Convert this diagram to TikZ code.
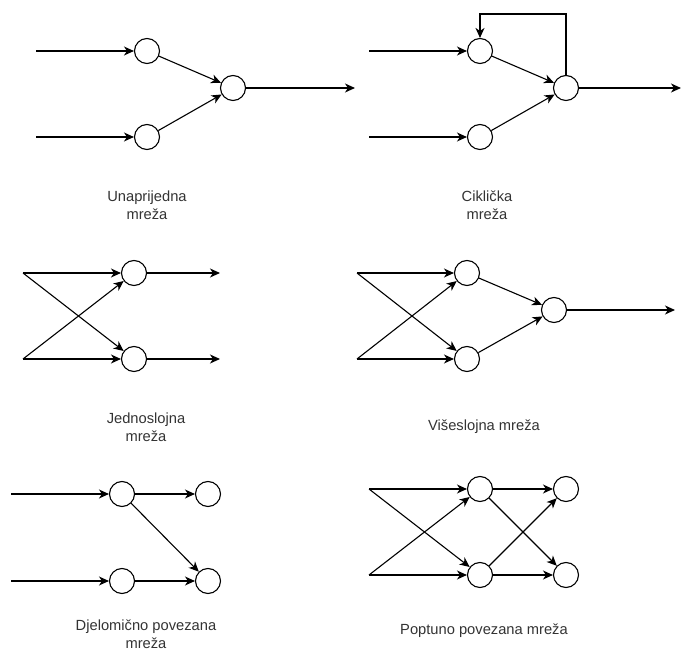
\documentclass[tikz,border=0pt]{standalone}
\usepackage{fontspec}
\setmainfont{Liberation Sans}
\usetikzlibrary{arrows.meta}
\definecolor{labelgray}{HTML}{333333}
\begin{document}
\begin{tikzpicture}[x=1pt,y=-1pt,
  neuron/.style={circle,draw=black,line width=1.1pt,minimum size=25pt,inner sep=0pt,fill=white},
  conn/.style={draw=black,line width=1.1pt,-{Stealth[length=10pt,width=9pt,inset=3pt]}},
  caption/.style={text=labelgray,align=center,font=\fontsize{14.7}{18.5}\selectfont,inner sep=0pt}]
\useasboundingbox (0,0) rectangle (681,652);
% ---- Panel 1: Unaprijedna mreza
\node[neuron] (a1) at (147,51) {};
\node[neuron] (a2) at (147,137) {};
\node[neuron] (a3) at (233,88) {};
\coordinate (ai1) at (36,51);
\coordinate (ai2) at (36,137);
\coordinate (ao) at (355,88);
\draw[conn] (ai1) -- (a1);
\draw[conn] (ai2) -- (a2);
\draw[conn] (a1) -- (a3);
\draw[conn] (a2) -- (a3);
\draw[conn] (a3) -- (ao);
\node[caption] (la) at (147,205) {Unaprijedna\\mreža};
% ---- Panel 2: Ciklicka mreza
\node[neuron] (b1) at (480,51) {};
\node[neuron] (b2) at (480,137) {};
\node[neuron] (b3) at (566,88) {};
\coordinate (bi1) at (369,51);
\coordinate (bi2) at (369,137);
\coordinate (bo) at (681,88);
\coordinate (bf1) at (566,14);
\coordinate (bf2) at (480,14);
\draw[conn] (bi1) -- (b1);
\draw[conn] (bi2) -- (b2);
\draw[conn] (b1) -- (b3);
\draw[conn] (b2) -- (b3);
\draw[conn] (b3) -- (bo);
\draw[conn] (b3.north) -- (bf1) -- (bf2) -- (b1.north);
\node[caption] (lb) at (487,205) {Ciklička\\mreža};
% ---- Panel 3: Jednoslojna mreza
\node[neuron] (c1) at (134,273) {};
\node[neuron] (c2) at (134,359) {};
\coordinate (ci1) at (23,273);
\coordinate (ci2) at (23,359);
\coordinate (co1) at (220,273);
\coordinate (co2) at (220,359);
\draw[conn] (ci1) -- (c1);
\draw[conn] (ci1) -- (c2);
\draw[conn] (ci2) -- (c2);
\draw[conn] (ci2) -- (c1);
\draw[conn] (c1) -- (co1);
\draw[conn] (c2) -- (co2);
\node[caption] (lc) at (146,427) {Jednoslojna\\mreža};
% ---- Panel 4: Viseslojna mreza
\node[neuron] (d1) at (467,273) {};
\node[neuron] (d2) at (467,359) {};
\node[neuron] (d3) at (554,310) {};
\coordinate (di1) at (357,273);
\coordinate (di2) at (357,359);
\coordinate (do) at (675,310);
\draw[conn] (di1) -- (d1);
\draw[conn] (di1) -- (d2);
\draw[conn] (di2) -- (d2);
\draw[conn] (di2) -- (d1);
\draw[conn] (d1) -- (d3);
\draw[conn] (d2) -- (d3);
\draw[conn] (d3) -- (do);
\node[caption] (ld) at (484,427) {Višeslojna mreža};
% ---- Panel 5: Djelomicno povezana mreza
\node[neuron] (e1) at (122,494) {};
\node[neuron] (e2) at (208,494) {};
\node[neuron] (e3) at (122,581) {};
\node[neuron] (e4) at (208,581) {};
\coordinate (ei1) at (11,494);
\coordinate (ei2) at (11,581);
\draw[conn] (ei1) -- (e1);
\draw[conn] (ei2) -- (e3);
\draw[conn] (e1) -- (e2);
\draw[conn] (e1) -- (e4);
\draw[conn] (e3) -- (e4);
\node[caption] (le) at (146,634) {Djelomično povezana\\mreža};
% ---- Panel 6: Poptuno povezana mreza
\node[neuron] (f1) at (480,489) {};
\node[neuron] (f2) at (480,575) {};
\node[neuron] (f3) at (566,489) {};
\node[neuron] (f4) at (566,575) {};
\coordinate (fi1) at (369,489);
\coordinate (fi2) at (369,575);
\draw[conn] (fi1) -- (f1);
\draw[conn] (fi1) -- (f2);
\draw[conn] (fi2) -- (f2);
\draw[conn] (fi2) -- (f1);
\draw[conn] (f1) -- (f3);
\draw[conn] (f1) -- (f4);
\draw[conn] (f2) -- (f3);
\draw[conn] (f2) -- (f4);
\node[caption] (lf) at (484,631) {Poptuno povezana mreža};
\end{tikzpicture}
\end{document}
